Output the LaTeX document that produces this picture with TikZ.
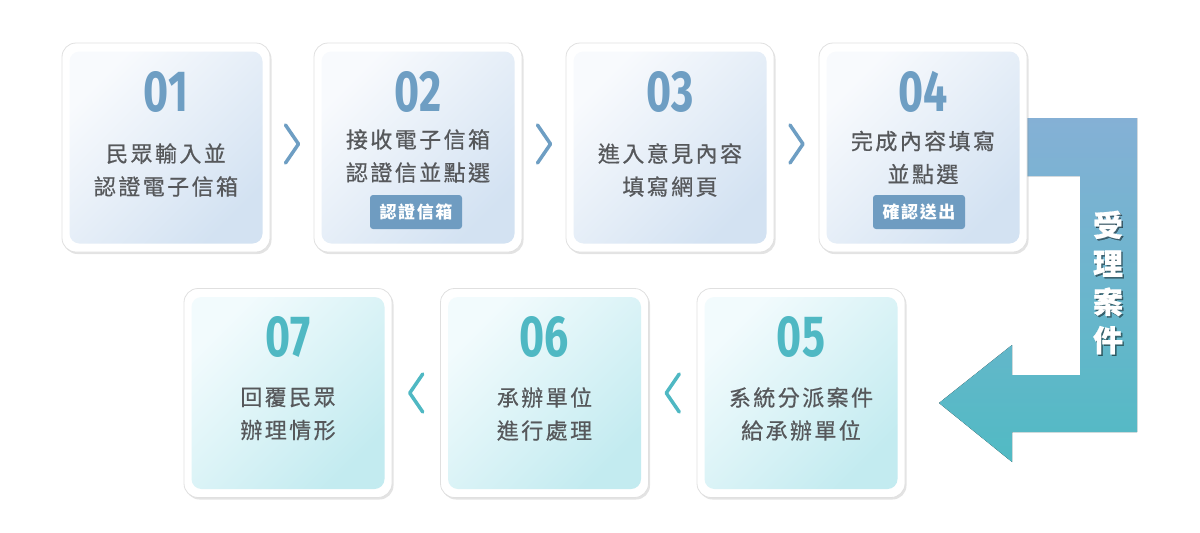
\documentclass[tikz,border=0pt]{standalone}
\usepackage{fontspec}
\setmainfont{Fira Sans}
\newfontfamily\cjk[LetterSpace=11,FakeBold=0.6]{Noto Sans CJK TC}
\newfontfamily\tagfont[LetterSpace=9]{Noto Sans CJK TC}
\newfontfamily\numfont[FakeStretch=0.74]{Fira Sans}
\usetikzlibrary{positioning,shadows,calc}
\definecolor{numtop}{HTML}{6E9EC3}
\definecolor{numbot}{HTML}{4FB8C3}
\definecolor{bodytxt}{HTML}{56585B}
\definecolor{topA}{HTML}{F8FAFD}
\definecolor{topB}{HTML}{D3E2F2}
\definecolor{botA}{HTML}{F2FBFD}
\definecolor{botB}{HTML}{C3EBF0}
\definecolor{tagc}{HTML}{6F9CC1}
\definecolor{arrA}{HTML}{8CAFD8}
\definecolor{arrB}{HTML}{52BAC4}
\pgfdeclareverticalshading{arrshade}{100bp}{color(0bp)=(arrB); color(26bp)=(arrB); color(82bp)=(arrA); color(100bp)=(arrA)}

\begin{document}
\begin{tikzpicture}[x=1pt,y=-1pt,
  frame/.style={draw=black!12,line width=0.8pt,fill=white,rounded corners=14pt,minimum width=208pt,minimum height=209pt,inner sep=0pt,drop shadow={shadow xshift=1.5pt,shadow yshift=-2pt,opacity=0.22}},
  paneltop/.style={rounded corners=10pt,minimum width=193pt,minimum height=192pt,inner sep=0pt,top color=topA,bottom color=topB,shading angle=45},
  panelbot/.style={paneltop,top color=botA,bottom color=botB,shading angle=45},
  numtop/.style={inner sep=0pt,text=numtop,font=\numfont\bfseries\fontsize{58}{58}\selectfont},
  numbot/.style={numtop,text=numbot},
  body/.style={inner sep=0pt,align=center,text=bodytxt,font=\cjk\fontsize{22}{33}\selectfont},
  tagbox/.style={fill=tagc,rounded corners=3pt,minimum width=92pt,minimum height=34pt,inner sep=0pt,text=white,font=\tagfont\bfseries\fontsize{17}{17}\selectfont},
  chevtop/.style={draw=numtop,line width=3.5pt,line cap=round,line join=round},
  chevbot/.style={chevtop,draw=numbot}]
\useasboundingbox (0,0) rectangle (1200,533);
\fill[shading=arrshade] (1010,118) -- (1137,118) -- (1137,432) -- (1012,432) -- (1012,462) -- (939,403) -- (1012,345) -- (1012,375) -- (1080,375) -- (1080,176) -- (1010,176) -- cycle;
\node[inner sep=0pt,align=center,text=black,opacity=0.45,font=\cjk\bfseries\fontsize{30}{38.3}\selectfont] (caseshadow) at (1109.5,284) {受\\理\\案\\件};
\node[inner sep=0pt,align=center,text=white,font=\cjk\bfseries\fontsize{30}{38.3}\selectfont] (casetext) at (1108,282.5) {受\\理\\案\\件};

\node[frame] (f1) at (166,147.5) {};
\node[paneltop] (p1) at (f1.center) {};
\node[numtop] (n1) at (166,92) {01};
\node[body] (t1) at (166,170) {民眾輸入並\\認證電子信箱};

\node[frame] (f2) at (418,147.5) {};
\node[paneltop] (p2) at (f2.center) {};
\node[numtop] (n2) at (418,92) {02};
\node[body] (t2) at (418,156) {接收電子信箱\\認證信並點選};
\node[tagbox] (g2) at (416,212) {認證信箱};

\node[frame] (f3) at (670,147.5) {};
\node[paneltop] (p3) at (f3.center) {};
\node[numtop] (n3) at (670,92) {03};
\node[body] (t3) at (670,170) {進入意見內容\\填寫網頁};

\node[frame] (f4) at (923,147.5) {};
\node[paneltop] (p4) at (f4.center) {};
\node[numtop] (n4) at (923,92) {04};
\node[body] (t4) at (923,157.5) {完成內容填寫\\並點選};
\node[tagbox] (g4) at (919,212) {確認送出};

\node[frame] (f5) at (801,393) {};
\node[panelbot] (p5) at (f5.center) {};
\node[numbot] (n5) at (801,337) {05};
\node[body] (t5) at (801,414) {系統分派案件\\給承辦單位};

\node[frame] (f6) at (544.5,393) {};
\node[panelbot] (p6) at (f6.center) {};
\node[numbot] (n6) at (544.5,337) {06};
\node[body] (t6) at (544.5,414) {承辦單位\\進行處理};

\node[frame] (f7) at (288,393) {};
\node[panelbot] (p7) at (f7.center) {};
\node[numbot] (n7) at (288,337) {07};
\node[body] (t7) at (288,414) {回覆民眾\\辦理情形};

\draw[chevtop] ([shift={(-6.5,-22.5)}]$(f1.east)!.5!(f2.west)$) -- ++(13,19) -- ++(-13,19);
\draw[chevtop] ([shift={(-6.5,-22.5)}]$(f2.east)!.5!(f3.west)$) -- ++(13,19) -- ++(-13,19);
\draw[chevtop] ([shift={(-6.5,-22.5)}]$(f3.east)!.5!(f4.west)$) -- ++(13,19) -- ++(-13,19);
\draw[chevbot] ([shift={(6.5,-19)}]$(f6.east)!.5!(f5.west)$) -- ++(-13,19) -- ++(13,19);
\draw[chevbot] ([shift={(6.5,-19)}]$(f7.east)!.5!(f6.west)$) -- ++(-13,19) -- ++(13,19);
\end{tikzpicture}
\end{document}
